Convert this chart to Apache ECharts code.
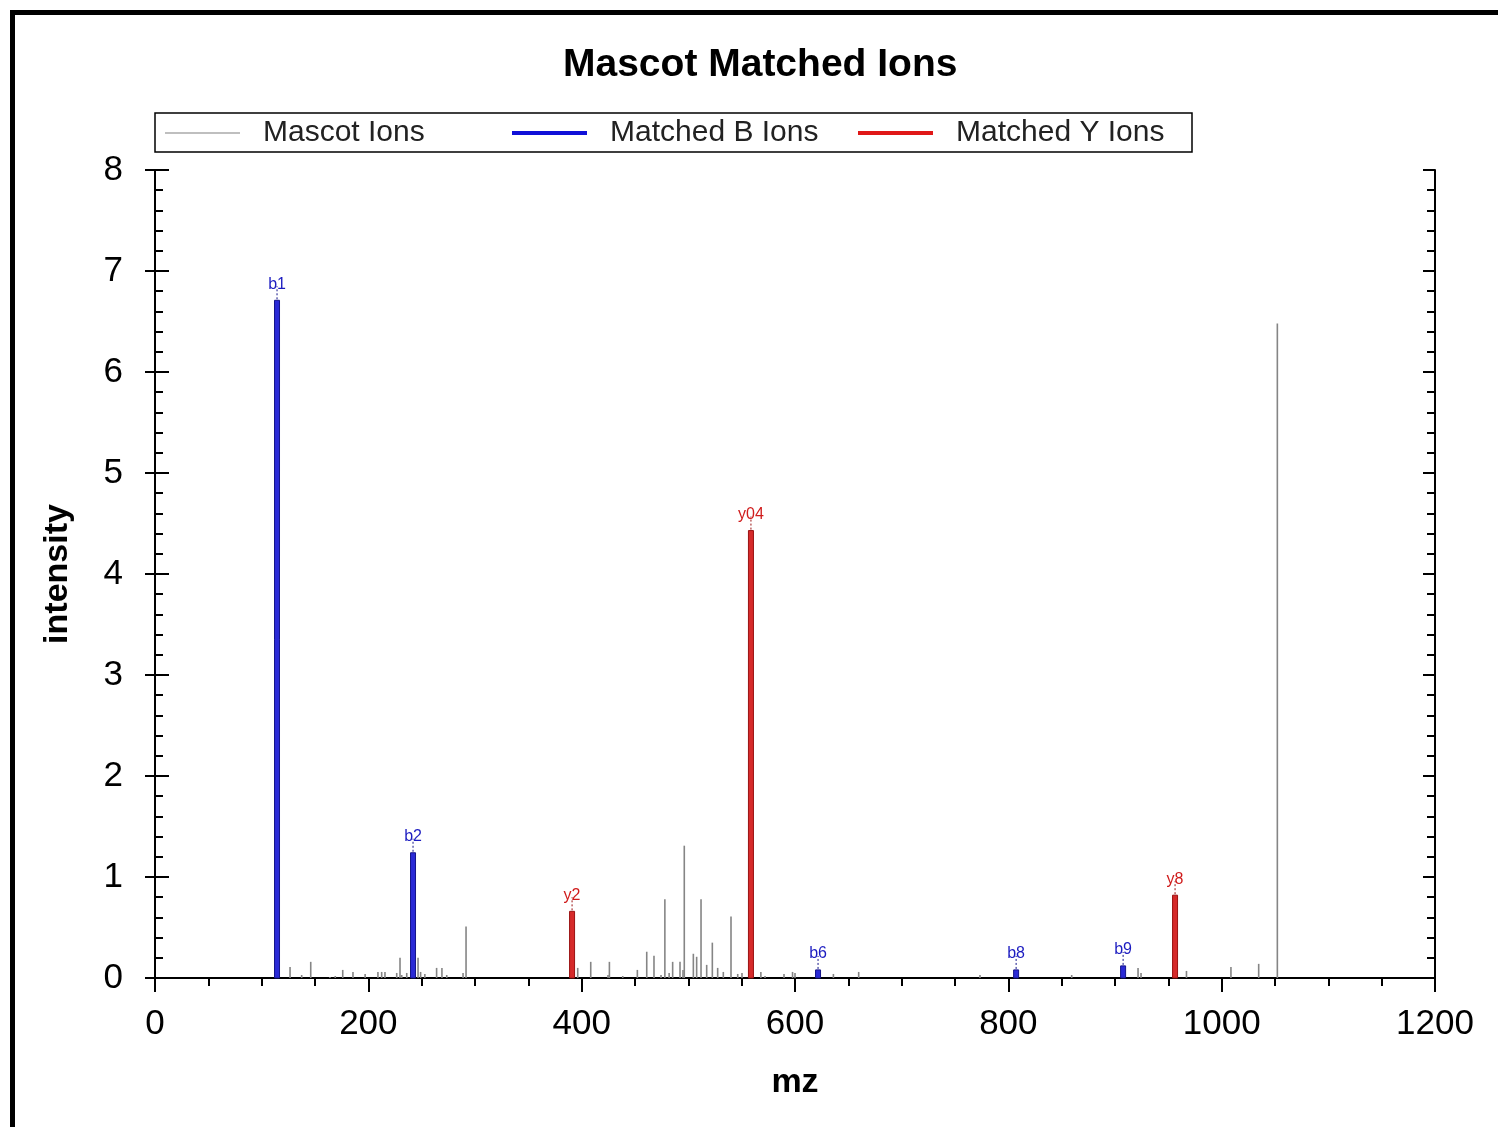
<!DOCTYPE html>
<html>
<head>
<meta charset="utf-8">
<title>Mascot Matched Ions</title>
<script src="https://cdn.jsdelivr.net/npm/echarts@6/dist/echarts.min.js"></script>
<style>
  html, body { margin: 0; padding: 0; background: #fff; }
  #chart { width: 1498px; height: 1127px; }
</style>
</head>
<body>
<div id="chart"></div>
<script>
// grey peaks (all ions), mz / intensity
var ionMz = [126.6, 137.5, 146, 164, 169, 176, 185.6, 197, 209, 212.5, 215.6, 226.6, 229.7, 231.3, 236, 240.7,
  246.6, 249, 253, 264, 269, 273.5, 288.8, 291.6, 396.3, 408.5, 424.7, 426, 438.5, 452.2, 461, 467.8, 474.4,
  478, 482, 485.3, 492.2, 495, 496.2, 504.7, 507.8, 511.9, 517.2, 522.5, 527.5, 532.8, 540, 546.3, 550.3,
  558.5, 568, 571.9, 589.7, 597.7, 600, 636, 659.7, 773.4, 859.4, 921.6, 924.4, 967, 1008.7, 1034.7, 1052.2]
var ionInt = [0.11, 0.03, 0.16, 0.01, 0.02, 0.08, 0.06, 0.04, 0.06, 0.06, 0.06, 0.05, 0.2, 0.03, 0.05, 0.16,
  0.2, 0.06, 0.04, 0.1, 0.1, 0.03, 0.05, 0.51, 0.1, 0.16, 0.03, 0.16, 0.02, 0.08, 0.26, 0.22, 0.03,
  0.78, 0.05, 0.16, 0.16, 0.08, 1.31, 0.24, 0.21, 0.78, 0.13, 0.35, 0.1, 0.06, 0.61, 0.04, 0.05,
  0.25, 0.06, 0.02, 0.04, 0.06, 0.05, 0.04, 0.06, 0.03, 0.03, 0.1, 0.05, 0.07, 0.11, 0.14, 6.48]

// matched b ions
var bMz = [114.4, 241.9, 621.6, 807.3, 907.6]
var bInt = [6.71, 1.24, 0.08, 0.08, 0.12]
var bLabels = ['b1', 'b2', 'b6', 'b8', 'b9']

// matched y ions
var yMz = [391, 558.7, 956.3]
var yInt = [0.66, 4.43, 0.82]
var yLabels = ['y2', 'y04', 'y8']

var xTicks = [0, 200, 400, 600, 800, 1000, 1200]
var yTicks = [0, 1, 2, 3, 4, 5, 6, 7, 8]

var FONT = '"Liberation Sans", Arial, sans-serif'

function pairs (xs, ys) {
  return xs.map(function (x, i) { return [x, ys[i]] })
}

function greyPeak (params, api) {
  var p0 = api.coord([api.value(0), 0])
  var p1 = api.coord([api.value(0), api.value(1)])
  return {
    type: 'line',
    shape: { x1: p0[0], y1: p0[1], x2: p1[0], y2: p1[1] },
    style: { stroke: '#858585', lineWidth: 1.6 }
  }
}

function matchedPeak (labels, fill, edge, textColor) {
  return function (params, api) {
    var p0 = api.coord([api.value(0), 0])
    var p1 = api.coord([api.value(0), api.value(1)])
    return {
      type: 'group',
      children: [
        {
          type: 'rect',
          shape: { x: p1[0] - 2.5, y: p1[1], width: 5, height: p0[1] - p1[1] },
          style: { fill: fill, stroke: edge, lineWidth: 1 }
        },
        {
          type: 'line',
          shape: { x1: p1[0], y1: p1[1] - 1, x2: p1[0], y2: p1[1] - 14 },
          style: { stroke: edge, lineWidth: 1, lineDash: [2, 2] }
        },
        {
          type: 'text',
          x: p1[0],
          y: p1[1] - 8,
          style: {
            text: labels[params.dataIndex],
            fill: textColor,
            font: '16px ' + FONT,
            align: 'center',
            verticalAlign: 'bottom'
          }
        }
      ]
    }
  }
}

var axisLine = { show: true, lineStyle: { color: '#000', width: 2 } }
var tickStyle = { color: '#000', width: 2 }

var option = {
  backgroundColor: '#fff',
  animation: false,
  title: {
    text: 'Mascot Matched Ions',
    left: 558,
    top: 41,
    textStyle: { fontFamily: FONT, fontSize: 39, fontWeight: 'bold', color: '#000' }
  },
  legend: [
    { name: 'Mascot Ions', left: 165, icon: 'path://M0,0L1,0Z M0,7.5L100,7.5L100,8.5L0,8.5Z M0,16L1,16Z' },
    { name: 'Matched B Ions', left: 512, icon: 'path://M0,0L1,0Z M0,6L100,6L100,10L0,10Z M0,16L1,16Z' },
    { name: 'Matched Y Ions', left: 858, icon: 'path://M0,0L1,0Z M0,6L100,6L100,10L0,10Z M0,16L1,16Z' }
  ].map(function (l) {
    return {
      data: [{ name: l.name, icon: l.icon }],
      left: l.left,
      top: 118,
      padding: 0,
      itemWidth: 75,
      itemHeight: 16,
      symbolKeepAspect: false,
      selectedMode: false,
      itemStyle: { borderWidth: 0 },
      textStyle: { fontFamily: FONT, fontSize: 30, color: '#222', padding: [0, 0, 0, 18] }
    }
  }),
  grid: { left: 155, right: 63, top: 170, bottom: 149, containLabel: false },
  xAxis: [
    {
      type: 'value', position: 'bottom', min: 0, max: 1200, interval: 200,
      axisLine: axisLine,
      axisTick: { show: true, inside: false, length: 14, lineStyle: tickStyle },
      minorTick: { show: true, splitNumber: 4, length: 8, lineStyle: tickStyle },
      splitLine: { show: false },
      axisLabel: {
        fontFamily: FONT, fontSize: 35, color: '#000', margin: 29,
        formatter: function (v) { return xTicks.indexOf(v) >= 0 ? String(v) : '' }
      },
      name: 'mz', nameLocation: 'middle', nameGap: 88,
      nameTextStyle: { fontFamily: FONT, fontSize: 34, fontWeight: 'bold', color: '#000' }
    },
    {
      type: 'value', position: 'top', min: 0, max: 1200, interval: 200,
      axisLine: axisLine,
      axisTick: { show: true, inside: true, length: 12, lineStyle: tickStyle },
      minorTick: { show: true, splitNumber: 4, length: 8, lineStyle: tickStyle },
      splitLine: { show: false },
      axisLabel: { show: false }
    }
  ],
  yAxis: [
    {
      type: 'value', position: 'left', min: 0, max: 8, interval: 1,
      axisLine: axisLine,
      axisTick: { show: true, inside: true, length: 14, lineStyle: tickStyle },
      minorTick: { show: true, splitNumber: 5, length: 8, lineStyle: tickStyle },
      splitLine: { show: false },
      axisLabel: {
        fontFamily: FONT, fontSize: 35, color: '#000', margin: 32,
        formatter: function (v) { return yTicks.indexOf(v) >= 0 ? String(v) : '' }
      },
      name: 'intensity', nameLocation: 'middle', nameGap: 80, nameRotate: 90,
      nameTextStyle: { fontFamily: FONT, fontSize: 34, fontWeight: 'bold', color: '#000' }
    },
    {
      type: 'value', position: 'left', min: 0, max: 8, interval: 1,
      axisLine: { show: false },
      axisTick: { show: true, inside: false, length: 10, lineStyle: tickStyle },
      splitLine: { show: false },
      axisLabel: { show: false }
    },
    {
      type: 'value', position: 'right', min: 0, max: 8, interval: 1,
      axisLine: axisLine,
      axisTick: { show: true, inside: true, length: 12, lineStyle: tickStyle },
      minorTick: { show: true, splitNumber: 5, length: 8, lineStyle: tickStyle },
      splitLine: { show: false },
      axisLabel: { show: false }
    }
  ],
  series: [
    {
      name: 'Mascot Ions',
      type: 'custom',
      xAxisIndex: 0, yAxisIndex: 0,
      itemStyle: { color: '#808080' },
      encode: { x: 0, y: 1 },
      renderItem: greyPeak,
      data: pairs(ionMz, ionInt),
      z: 2
    },
    {
      name: 'Matched B Ions',
      type: 'custom',
      xAxisIndex: 0, yAxisIndex: 0,
      itemStyle: { color: '#1010d8' },
      encode: { x: 0, y: 1 },
      renderItem: matchedPeak(bLabels, '#2a2ad6', '#14148a', '#1c1cc0'),
      data: pairs(bMz, bInt),
      z: 3
    },
    {
      name: 'Matched Y Ions',
      type: 'custom',
      xAxisIndex: 0, yAxisIndex: 0,
      itemStyle: { color: '#e01818' },
      encode: { x: 0, y: 1 },
      renderItem: matchedPeak(yLabels, '#d62a2a', '#9a1212', '#d01c1c'),
      data: pairs(yMz, yInt),
      z: 3
    }
  ],
  graphic: [
    { type: 'rect', shape: { x: 155, y: 113, width: 1037, height: 39 },
      style: { fill: 'none', stroke: '#000', lineWidth: 1.5 }, silent: true },
    { type: 'rect', shape: { x: 10, y: 10, width: 5, height: 1117 }, style: { fill: '#000' }, silent: true },
    { type: 'rect', shape: { x: 10, y: 10, width: 1488, height: 5 }, style: { fill: '#000' }, silent: true }
  ]
}

var chart = echarts.init(document.getElementById('chart'))
chart.setOption(option)
</script>
</body>
</html>
